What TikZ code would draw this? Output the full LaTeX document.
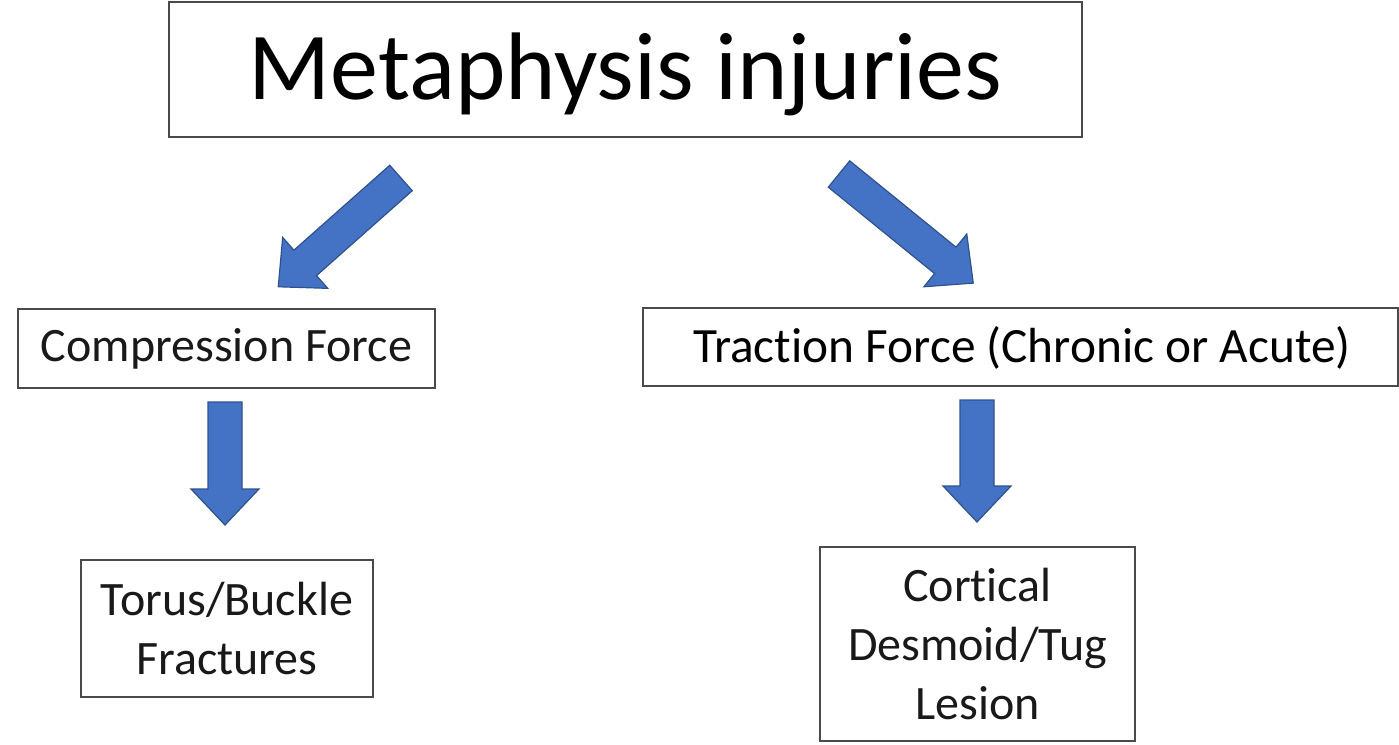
\documentclass[tikz,border=0pt]{standalone}
\usepackage{fontspec}
\setmainfont[Ligatures=CommonOff]{Carlito}
\definecolor{arrowblue}{HTML}{4472C4}
\definecolor{arrowedge}{HTML}{2F528F}
\definecolor{boxedge}{HTML}{4A4A4A}
\begin{document}
\begin{tikzpicture}[x=0.75pt,y=-0.75pt,
  box/.style={draw=boxedge,line width=1.1pt,fill=white,rectangle,inner sep=0pt,align=center,text=black!90},
  smalltext/.style={font=\fontsize{36}{44}\selectfont},
  bigtext/.style={font=\fontsize{72}{80}\selectfont},
  arrowbody/.style={fill=arrowblue,draw=arrowedge,line width=0.9pt,line join=miter},
  pics/blockarrow/.style={code={
    \path[arrowbody] (0,-17) -- ({#1-36},-17) -- ({#1-36},-34) -- (#1,0)
      -- ({#1-36},34) -- ({#1-36},17) -- (0,17) -- cycle;}}]
\useasboundingbox (0,0) rectangle (1399,745);

% boxes
\node[box,minimum width=913*0.75pt,minimum height=135*0.75pt] (top) at (625.5,69.5) {};
\node[bigtext] (toptext) at (625.5,74) {Metaphysis injuries};
\node[box,smalltext,minimum width=417*0.75pt,minimum height=79*0.75pt] (comp) at (226.5,348.5) {Compression Force};
\node[box,smalltext,minimum width=755*0.75pt,minimum height=78*0.75pt] (trac) at (1020.5,347) {};
\node[font=\fontsize{37}{44}\selectfont] (tractext) at (1022,348) {Traction Force (Chronic or Acute)};
\node[box,smalltext,minimum width=292*0.75pt,minimum height=137*0.75pt] (torus) at (227,628.5) {Torus/Buckle\\Fractures};
\node[box,smalltext,minimum width=315*0.75pt,minimum height=194*0.75pt] (cort) at (977.5,644) {Cortical\\Desmoid/Tug\\Lesion};

% block arrows
\coordinate (a1) at (401,178);
\coordinate (a2) at (839,174);
\coordinate (a3) at (225,402);
\coordinate (a4) at (977,400);
\pic[rotate=221.55] at (a1) {blockarrow=164};
\pic[rotate=-39.1] at (a2) {blockarrow=173};
\pic[rotate=-90] at (a3) {blockarrow=123};
\pic[rotate=-90] at (a4) {blockarrow=122};
\end{tikzpicture}
\end{document}
